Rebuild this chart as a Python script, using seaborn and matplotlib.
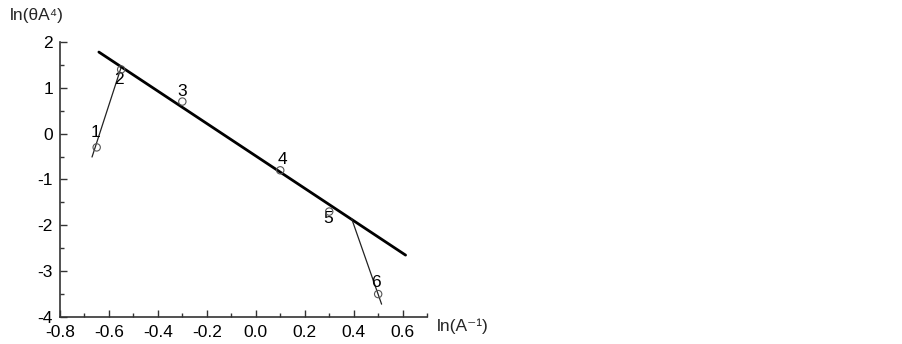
import matplotlib
matplotlib.use("Agg")
import matplotlib.pyplot as plt
import seaborn as sns
import pandas as pd
from matplotlib.ticker import MultipleLocator

# data
point_ids = ["1", "2", "3", "4", "5", "6"]
x_vals = [-0.65, -0.55, -0.30, 0.10, 0.30, 0.50]
y_vals = [-0.30, 1.40, 0.70, -0.80, -1.70, -3.50]

fit_x = [-0.641, 0.612]
fit_y = [1.78, -2.65]
left_x = [-0.669, -0.551]
left_y = [-0.51, 1.43]
right_x = [0.392, 0.514]
right_y = [-1.86, -3.72]

label_x = [-0.653, -0.559, -0.302, 0.11, 0.294, 0.49]
label_y = [0.03, 1.19, 0.93, -0.57, -1.86, -3.24]

x_ticks = [-0.8, -0.6, -0.4, -0.2, 0.0, 0.2, 0.4, 0.6]
x_tick_labels = ["-0.8", "-0.6", "-0.4", "-0.2", "0.0", "0.2", "0.4", "0.6"]
y_ticks = [-4, -3, -2, -1, 0, 1, 2]
y_tick_labels = ["-4", "-3", "-2", "-1", "0", "1", "2"]

sns.set_style("white")
plt.rcParams['font.family'] = ['Liberation Sans', 'DejaVu Sans']
plt.rcParams['xtick.direction'] = 'in'
plt.rcParams['ytick.direction'] = 'in'
plt.rcParams['xtick.bottom'] = True
plt.rcParams['ytick.left'] = True

fig = plt.figure(figsize=(9.03, 3.44), dpi=100)
ax = fig.add_axes([0.0664, 0.0785, 0.4066, 0.7995])

pts = pd.DataFrame({"x": x_vals, "y": y_vals})
sns.lineplot(x=fit_x, y=fit_y, ax=ax, color="black", linewidth=2.0)
sns.lineplot(x=left_x, y=left_y, ax=ax, color="#222222", linewidth=0.9)
sns.lineplot(x=right_x, y=right_y, ax=ax, color="#222222", linewidth=0.9)
sns.scatterplot(data=pts, x="x", y="y", ax=ax, marker="o", s=28,
                facecolor="none", edgecolor="#555555", linewidth=0.8, zorder=5)

for t, lx, ly in zip(point_ids, label_x, label_y):
    ax.text(lx, ly, t, fontsize=12.5, ha="center", va="center", color="black")

ax.set_xlim(-0.8, 0.7)
ax.set_ylim(-4, 2)
ax.set_xticks(x_ticks)
ax.set_xticklabels(x_tick_labels)
ax.set_yticks(y_ticks)
ax.set_yticklabels(y_tick_labels)
ax.xaxis.set_minor_locator(MultipleLocator(0.1))
ax.yaxis.set_minor_locator(MultipleLocator(0.5))
ax.tick_params(axis="both", which="major", direction="in", length=5, width=1,
               labelsize=12.5, colors="#333333", labelcolor="black")
ax.tick_params(axis="both", which="minor", direction="in", length=3, width=1,
               colors="#333333")
ax.tick_params(axis="x", which="major", pad=6)
ax.tick_params(axis="y", which="major", pad=5)

for s in ["top", "right"]:
    ax.spines[s].set_visible(False)
for s in ["left", "bottom"]:
    ax.spines[s].set_color("#333333")
    ax.spines[s].set_linewidth(1.2)

ax.set_xlabel("")
ax.set_ylabel("")
fig.text(0.011, 0.955, "ln(θA\u2074)", fontsize=12.5, ha="left", va="center",
         family=['Liberation Sans', 'DejaVu Sans'])
fig.text(0.484, 0.052, "ln(A\u207b\u00b9)", fontsize=12.5, ha="left", va="center",
         family=['Liberation Sans', 'DejaVu Sans'])

fig.savefig("out.png", dpi=100)
